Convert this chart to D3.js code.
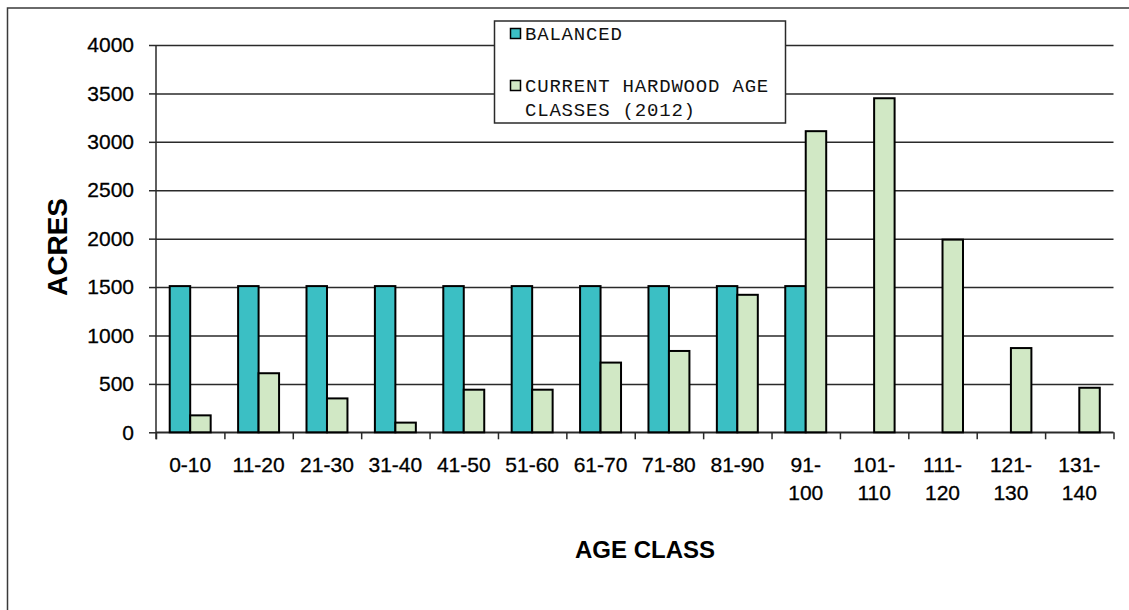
<!DOCTYPE html>
<html>
<head>
<meta charset="utf-8">
<script src="https://cdn.jsdelivr.net/npm/d3@7"></script>
<style>
    body { margin: 0; background: #fff; }
    svg { display: block; }
</style>
</head>
<body>
<div id="vis"></div>
<script>
// data
var categories = ["0-10", "11-20", "21-30", "31-40", "41-50", "51-60", "61-70",
    "71-80", "81-90", "91-100", "101-110", "111-120", "121-130", "131-140"];
var balanced = [1510, 1510, 1510, 1510, 1510, 1510, 1510, 1510, 1510, 1510, null, null, null, null];
var current = [175, 610, 350, 100, 440, 440, 720, 840, 1420, 3110, 3450, 1990, 870, 460];
var yTicks = [0, 500, 1000, 1500, 2000, 2500, 3000, 3500, 4000];
var seriesKeys = ["balanced", "current"];
var legendLines = [["BALANCED"], ["CURRENT HARDWOOD AGE", "CLASSES (2012)"]];
var colors = { balanced: "#3bbfc4", current: "#d1e8c5" };

var width = 1129, height = 610;
var plot = { left: 156, right: 1113.5, top: 45, bottom: 432.3 };
var sans = "Liberation Sans, Arial, sans-serif";

var svg = d3.select("#vis")
    .append("svg")
        .attr("width", width)
        .attr("height", height)
        .attr("font-family", sans);

// outer chart border (runs off the right and bottom of the picture)
svg.append("rect")
    .attr("x", 7.5).attr("y", 8)
    .attr("width", width + 20).attr("height", height + 20)
    .attr("fill", "#fff")
    .attr("stroke", "#3a3a3a")
    .attr("stroke-width", 1.5);

var x = d3.scaleBand()
    .domain(categories)
    .range([plot.left, plot.right]);

var xs = d3.scaleBand()
    .domain(seriesKeys)
    .range([0, x.bandwidth()])
    .paddingOuter(0.67);

var y = d3.scaleLinear()
    .domain([0, 4000])
    .range([plot.bottom, plot.top]);

// gridlines
var grid = svg.append("g")
    .attr("transform", "translate(" + plot.left + ",0)")
    .call(d3.axisLeft(y).tickValues(yTicks).tickSize(-(plot.right - plot.left)).tickFormat(""));
grid.select(".domain").remove();
grid.selectAll("line").attr("stroke", "#2a2a2a").attr("stroke-width", 1.5);

// y axis
var yAxis = svg.append("g")
    .attr("transform", "translate(" + plot.left + ",0)")
    .call(d3.axisLeft(y).tickValues(yTicks).tickSize(7).tickPadding(15).tickFormat(d3.format("d")));
yAxis.select(".domain").remove();
yAxis.selectAll("line").attr("stroke", "#2a2a2a").attr("stroke-width", 1.5);
yAxis.selectAll("text")
    .attr("font-size", 21)
    .attr("font-family", sans)
    .attr("fill", "#000")
    .attr("stroke", "#000")
    .attr("stroke-width", 0.3);

// vertical axis line
svg.append("line")
    .attr("x1", plot.left).attr("x2", plot.left)
    .attr("y1", y(4000)).attr("y2", plot.bottom + 7)
    .attr("stroke", "#2a2a2a").attr("stroke-width", 1.5);

// x axis boundary ticks
var xEdge = d3.scaleLinear().domain([0, categories.length]).range([plot.left, plot.right]);
var xTicks = svg.append("g")
    .attr("transform", "translate(0," + plot.bottom + ")")
    .call(d3.axisBottom(xEdge).ticks(categories.length).tickSize(7).tickFormat(""));
xTicks.select(".domain").attr("stroke", "#2a2a2a").attr("stroke-width", 1.5).attr("d",
    "M" + plot.left + ",0H" + plot.right);
xTicks.selectAll("line").attr("stroke", "#2a2a2a").attr("stroke-width", 1.5);

// x labels
var xAxis = svg.append("g")
    .attr("transform", "translate(0," + plot.bottom + ")")
    .call(d3.axisBottom(x).tickSize(0).tickFormat(""));
xAxis.select(".domain").remove();
xAxis.selectAll(".tick").each(function(d)
{
    var parts = d.length > 5 ? [d.slice(0, d.indexOf("-") + 1), d.slice(d.indexOf("-") + 1)] : [d];
    var t = d3.select(this).append("text")
        .attr("text-anchor", "middle")
        .attr("font-size", 21)
        .attr("font-family", sans)
        .attr("fill", "#000")
        .attr("stroke", "#000")
        .attr("stroke-width", 0.3);
    parts.forEach(function(p, i)
    {
        t.append("tspan").attr("x", 0).attr("y", 39.5 + i * 28.5).text(p);
    });
});

// bars
var rows = categories.map(function(c, i) { return { cat: c, balanced: balanced[i], current: current[i] }; });
var groups = svg.append("g").selectAll("g")
    .data(rows)
    .join("g")
        .attr("transform", function(d) { return "translate(" + x(d.cat) + ",0)"; });

groups.selectAll("rect")
    .data(function(d) { return seriesKeys.filter(function(k) { return d[k] != null; })
        .map(function(k) { return { key: k, value: d[k] }; }); })
    .join("rect")
        .attr("x", function(d) { return xs(d.key); })
        .attr("width", xs.bandwidth())
        .attr("y", function(d) { return y(d.value); })
        .attr("height", function(d) { return y(0) - y(d.value); })
        .attr("fill", function(d) { return colors[d.key]; })
        .attr("stroke", "#000")
        .attr("stroke-width", 2);

// axis titles
svg.append("text")
    .attr("transform", "translate(67,247) rotate(-90)")
    .attr("text-anchor", "middle")
    .attr("font-size", 28)
    .attr("font-weight", "bold")
    .text("ACRES");

svg.append("text")
    .attr("x", 645).attr("y", 558)
    .attr("text-anchor", "middle")
    .attr("font-size", 24)
    .attr("font-weight", "bold")
    .text("AGE CLASS");

// legend
var legend = svg.append("g");
legend.append("rect")
    .attr("x", 494.5).attr("y", 21)
    .attr("width", 291).attr("height", 102)
    .attr("fill", "#fff")
    .attr("stroke", "#2a2a2a")
    .attr("stroke-width", 1.5);

var legendTop = [39.5, 91.5];
seriesKeys.forEach(function(k, i)
{
    legend.append("rect")
        .attr("x", 510.5).attr("y", legendTop[i] - 11)
        .attr("width", 10).attr("height", 10)
        .attr("fill", colors[k])
        .attr("stroke", "#000")
        .attr("stroke-width", 1.5);
    legendLines[i].forEach(function(line, j)
    {
        legend.append("text")
            .attr("x", 525).attr("y", legendTop[i] + j * 24.5)
            .attr("font-family", "Liberation Mono, Courier New, monospace")
            .attr("font-size", 19)
            .attr("letter-spacing", 0.8)
            .attr("fill", "#111")
            .text(line);
    });
});
</script>
</body>
</html>
